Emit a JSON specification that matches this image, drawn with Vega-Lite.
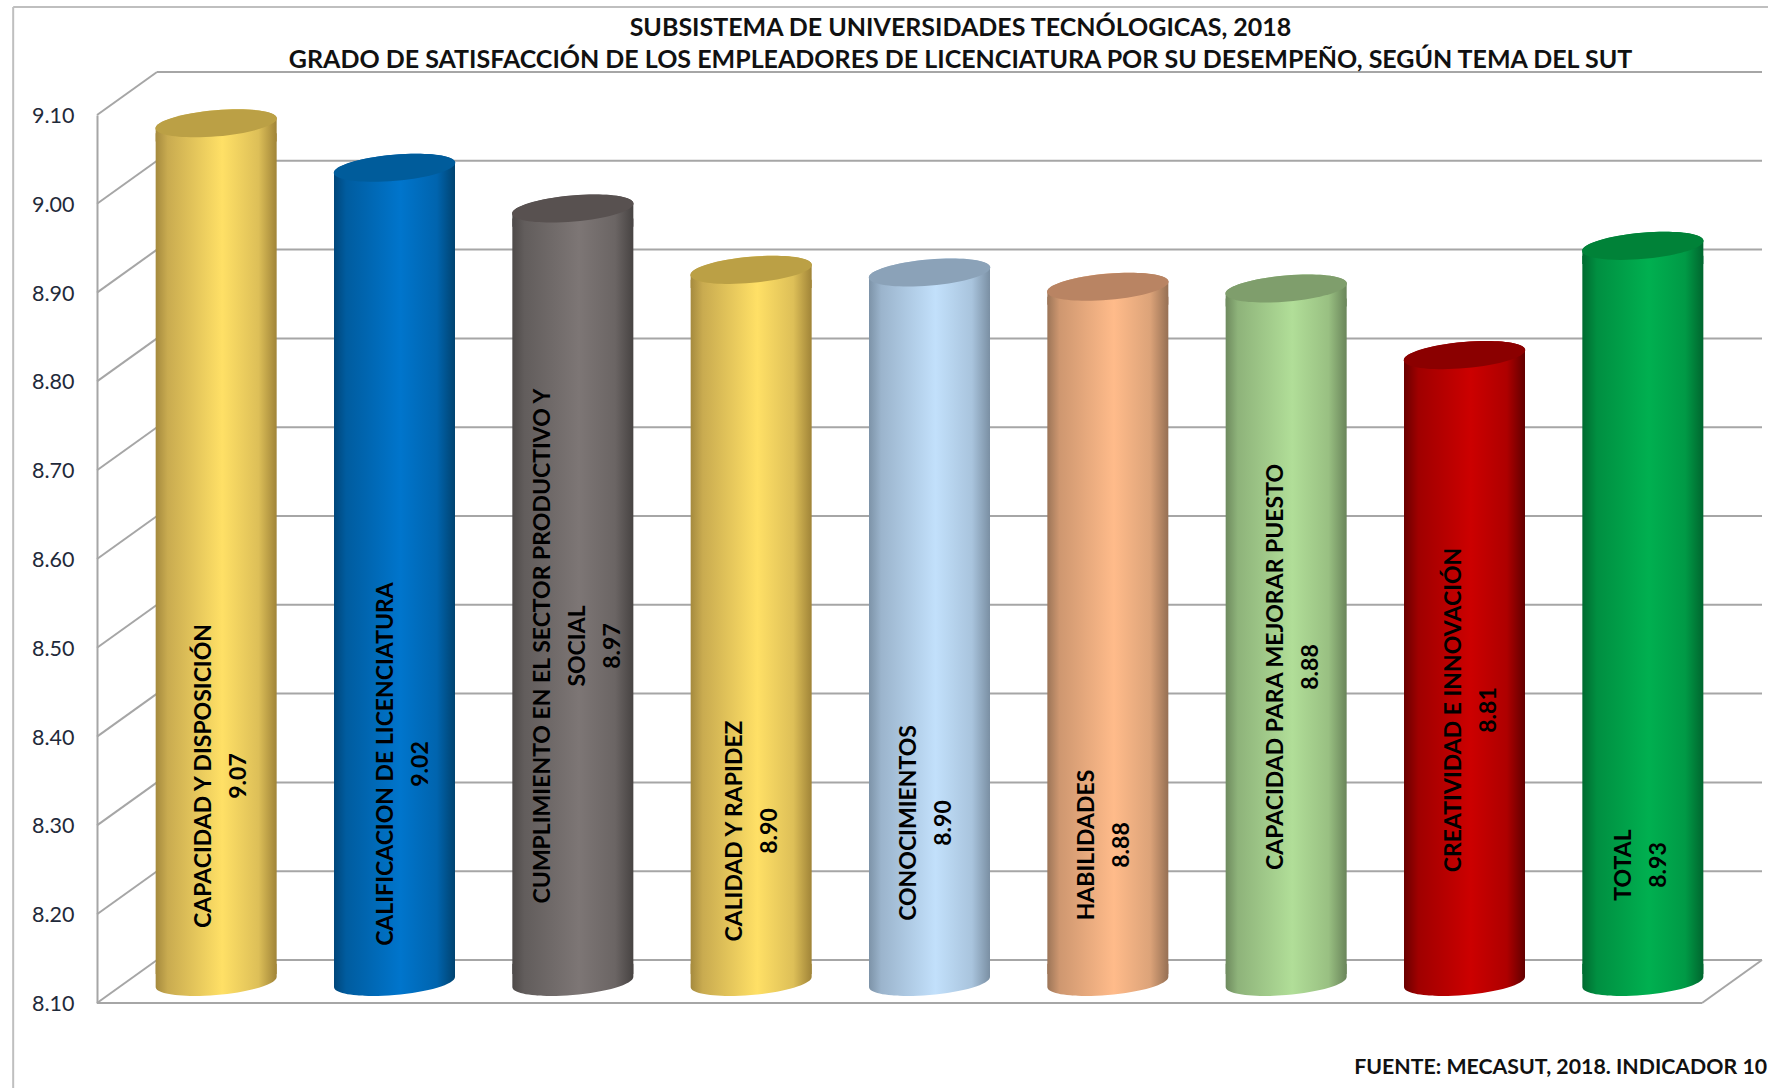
{"$schema":"https://vega.github.io/schema/vega-lite/v6.json","width":1605,"height":888,"autosize":"none","padding":{"left":97,"top":115,"right":66,"bottom":85},"background":"white",
"title":{"text":["SUBSISTEMA DE UNIVERSIDADES TECNÓLOGICAS, 2018","GRADO DE SATISFACCIÓN DE LOS EMPLEADORES DE LICENCIATURA POR SU DESEMPEÑO, SEGÚN TEMA DEL SUT"],"font":"Lato","fontWeight":"bold","fontSize":25,"lineHeight":32,"color":"#111111","anchor":"middle","frame":"group","dx":61,"offset":-66.5},
"config":{"view":{"stroke":null},"scale":{"continuousPadding":0},"rule":{"stroke":"#A6A6A6","strokeWidth":2},"text":{"font":"Lato","fontWeight":"bold","fontSize":23,"angle":270,"lineBreak":"|","lineHeight":35,"color":"#000000"}},
"datasets":{"temas":[
{"orden":0.5,"tema":"CAPACIDAD Y DISPOSICIÓN","valor":9.067,"rotulo":"CAPACIDAD Y DISPOSICIÓN|9.07"},
{"orden":1.5,"tema":"CALIFICACION DE LICENCIATURA","valor":9.017,"rotulo":"CALIFICACION DE LICENCIATURA|9.02"},
{"orden":2.5,"tema":"CUMPLIMIENTO EN EL SECTOR PRODUCTIVO Y SOCIAL","valor":8.971,"rotulo":"CUMPLIMIENTO EN EL SECTOR PRODUCTIVO Y|SOCIAL|8.97"},
{"orden":3.5,"tema":"CALIDAD Y RAPIDEZ","valor":8.902,"rotulo":"CALIDAD Y RAPIDEZ|8.90"},
{"orden":4.5,"tema":"CONOCIMIENTOS","valor":8.899,"rotulo":"CONOCIMIENTOS|8.90"},
{"orden":5.5,"tema":"HABILIDADES","valor":8.883,"rotulo":"HABILIDADES|8.88"},
{"orden":6.5,"tema":"CAPACIDAD PARA MEJORAR PUESTO","valor":8.881,"rotulo":"CAPACIDAD PARA MEJORAR PUESTO|8.88"},
{"orden":7.5,"tema":"CREATIVIDAD E INNOVACIÓN","valor":8.806,"rotulo":"CREATIVIDAD E INNOVACIÓN|8.81"},
{"orden":8.5,"tema":"TOTAL","valor":8.929,"rotulo":"TOTAL|8.93"}],
"escala":[{"v":8.1},{"v":8.2},{"v":8.3},{"v":8.4},{"v":8.5},{"v":8.6},{"v":8.7},{"v":8.8},{"v":8.9},{"v":9.0},{"v":9.1}]},
"layer":[
{"data":{"name":"escala"},"mark":{"type":"rule","xOffset":60,"x2Offset":60,"yOffset":-43,"y2Offset":-43},"encoding":{"x":{"datum":0,"type":"quantitative","scale":{"domain":[0,9]},"axis":null},"x2":{"datum":9},"y":{"field":"v","type":"quantitative","scale":{"domain":[8.1,9.1]},"axis":{"values":[8.1,8.2,8.3,8.4,8.5,8.6,8.7,8.8,8.9,9.0,9.1],"format":".2f","title":null,"grid":false,"ticks":false,"labelFont":"Lato","labelFontSize":21.5,"labelFontWeight":"normal","labelColor":"#1F2A3A","labelPadding":23,"labelOffset":1.5,"domainColor":"#A6A6A6","domainWidth":2}}}},
{"data":{"name":"escala"},"mark":{"type":"rule","x2Offset":60,"y2Offset":-43},"encoding":{"x":{"datum":0,"type":"quantitative","scale":{"domain":[0,9]}},"x2":{"datum":0},"y":{"field":"v","type":"quantitative","scale":{"domain":[8.1,9.1]}},"y2":{"field":"v"}}},
{"data":{"values":[{}]},"mark":{"type":"rule"},"encoding":{"x":{"datum":0,"type":"quantitative","scale":{"domain":[0,9]}},"x2":{"datum":9},"y":{"datum":8.1,"type":"quantitative","scale":{"domain":[8.1,9.1]}}}},
{"data":{"values":[{}]},"mark":{"type":"rule","x2Offset":60,"y2Offset":-43},"encoding":{"x":{"datum":9,"type":"quantitative","scale":{"domain":[0,9]}},"x2":{"datum":9},"y":{"datum":8.1,"type":"quantitative","scale":{"domain":[8.1,9.1]}},"y2":{"datum":8.1}}},
{"data":{"values":[{}]},"mark":{"type":"rule","stroke":"#BFBFBF"},"encoding":{"x":{"datum":-0.47,"type":"quantitative","scale":{"domain":[0,9]}},"x2":{"datum":9.37},"y":{"datum":9.2216,"type":"quantitative","scale":{"domain":[8.1,9.1]}}}},
{"data":{"values":[{}]},"mark":{"type":"rule","stroke":"#BFBFBF"},"encoding":{"x":{"datum":-0.47,"type":"quantitative","scale":{"domain":[0,9]}},"y":{"datum":9.2216,"type":"quantitative","scale":{"domain":[8.1,9.1]}},"y2":{"datum":8.0}}},
{"data":{"name":"temas"},"mark":{"type":"point","filled":true,"opacity":1,"size":14641,"shape":"M-1,-0.3 L-1,0.083 A1.003,0.215,-5,0,0,1,-0.083 L1,-0.3 Z","xOffset":30,"yOffset":-21},"encoding":{"x":{"field":"orden","type":"quantitative","scale":{"domain":[0,9]}},"y":{"datum":8.1,"type":"quantitative","scale":{"domain":[8.1,9.1]}},"fill":{"field":"tema","type":"nominal","legend":null,"sort":null,"scale":{"domain":["CAPACIDAD Y DISPOSICIÓN","CALIFICACION DE LICENCIATURA","CUMPLIMIENTO EN EL SECTOR PRODUCTIVO Y SOCIAL","CALIDAD Y RAPIDEZ","CONOCIMIENTOS","HABILIDADES","CAPACIDAD PARA MEJORAR PUESTO","CREATIVIDAD E INNOVACIÓN","TOTAL"],"range":[
{"expr":"{gradient:'linear',x1:0,y1:0,x2:1,y2:0,stops:[{offset:0,color:'#A58A3E'},{offset:0.1,color:'#C9AB50'},{offset:0.55,color:'#FFE066'},{offset:0.85,color:'#DDBF58'},{offset:1,color:'#A08438'}]}"},
{"expr":"{gradient:'linear',x1:0,y1:0,x2:1,y2:0,stops:[{offset:0,color:'#00467A'},{offset:0.1,color:'#005C9F'},{offset:0.55,color:'#0075CC'},{offset:0.85,color:'#0064AE'},{offset:1,color:'#004370'}]}"},
{"expr":"{gradient:'linear',x1:0,y1:0,x2:1,y2:0,stops:[{offset:0,color:'#4E4A49'},{offset:0.1,color:'#625D5C'},{offset:0.55,color:'#7D7675'},{offset:0.85,color:'#6B6564'},{offset:1,color:'#474342'}]}"},
{"expr":"{gradient:'linear',x1:0,y1:0,x2:1,y2:0,stops:[{offset:0,color:'#A58A3E'},{offset:0.1,color:'#C9AB50'},{offset:0.55,color:'#FFE066'},{offset:0.85,color:'#DDBF58'},{offset:1,color:'#A08438'}]}"},
{"expr":"{gradient:'linear',x1:0,y1:0,x2:1,y2:0,stops:[{offset:0,color:'#7D93A8'},{offset:0.1,color:'#9BB4CC'},{offset:0.55,color:'#C2E0FB'},{offset:0.85,color:'#A9C4DD'},{offset:1,color:'#7A8FA3'}]}"},
{"expr":"{gradient:'linear',x1:0,y1:0,x2:1,y2:0,stops:[{offset:0,color:'#9C7558'},{offset:0.1,color:'#CE9770'},{offset:0.55,color:'#FFBB8A'},{offset:0.85,color:'#DCA379'},{offset:1,color:'#967054'}]}"},
{"expr":"{gradient:'linear',x1:0,y1:0,x2:1,y2:0,stops:[{offset:0,color:'#6E8A5E'},{offset:0.1,color:'#8EB37A'},{offset:0.55,color:'#B1DE98'},{offset:0.85,color:'#99C082'},{offset:1,color:'#6A855A'}]}"},
{"expr":"{gradient:'linear',x1:0,y1:0,x2:1,y2:0,stops:[{offset:0,color:'#6A0000'},{offset:0.12,color:'#A00000'},{offset:0.55,color:'#CC0000'},{offset:0.85,color:'#AE0000'},{offset:1,color:'#620000'}]}"},
{"expr":"{gradient:'linear',x1:0,y1:0,x2:1,y2:0,stops:[{offset:0,color:'#006B30'},{offset:0.12,color:'#008F41'},{offset:0.55,color:'#00B050'},{offset:0.85,color:'#009A46'},{offset:1,color:'#00662E'}]}"}
]}}}},
{"data":{"name":"temas"},"mark":{"type":"bar","size":121,"xOffset":30,"yOffset":-11,"y2Offset":-29},"encoding":{"x":{"field":"orden","type":"quantitative","scale":{"domain":[0,9]}},"y":{"field":"valor","type":"quantitative","scale":{"domain":[8.1,9.1]}},"y2":{"datum":8.1},"fill":{"field":"tema","type":"nominal","legend":null}}},
{"data":{"name":"temas"},"mark":{"type":"point","filled":true,"opacity":1,"size":14641,"shape":"M-1,0.3 L-1,0.083 A1.003,0.215,-5,0,1,1,-0.083 L1,0.3 Z","xOffset":30,"yOffset":-21},"encoding":{"x":{"field":"orden","type":"quantitative","scale":{"domain":[0,9]}},"y":{"field":"valor","type":"quantitative","scale":{"domain":[8.1,9.1]}},"fill":{"field":"tema","type":"nominal","legend":null}}},
{"data":{"name":"temas"},"mark":{"type":"point","filled":true,"opacity":1,"size":14884,"shape":"M-1,0 A1,0.2142 0 1,1 1,0 A1,0.2142 0 1,1 -1,0 Z","angle":-5,"xOffset":30,"yOffset":-21},"encoding":{"x":{"field":"orden","type":"quantitative","scale":{"domain":[0,9]}},"y":{"field":"valor","type":"quantitative","scale":{"domain":[8.1,9.1]}},"color":{"field":"orden","type":"ordinal","legend":null,"scale":{"domain":[0.5,1.5,2.5,3.5,4.5,5.5,6.5,7.5,8.5],"range":["#BBA045","#005C9B","#585150","#BBA045","#8BA2B8","#B98463","#7F9E6C","#8B0000","#008238"]}}}},
{"data":{"name":"temas"},"transform":[{"filter":"datum.orden==0.5"}],"mark":{"type":"text","xOffset":17.5,"yOffset":-227},"encoding":{"x":{"field":"orden","type":"quantitative","scale":{"domain":[0,9]}},"y":{"datum":8.1,"type":"quantitative","scale":{"domain":[8.1,9.1]}},"text":{"field":"rotulo"}}},
{"data":{"name":"temas"},"transform":[{"filter":"datum.orden==1.5"}],"mark":{"type":"text","xOffset":21.5,"yOffset":-239},"encoding":{"x":{"field":"orden","type":"quantitative","scale":{"domain":[0,9]}},"y":{"datum":8.1,"type":"quantitative","scale":{"domain":[8.1,9.1]}},"text":{"field":"rotulo"}}},
{"data":{"name":"temas"},"transform":[{"filter":"datum.orden==2.5"}],"mark":{"type":"text","xOffset":0,"yOffset":-357},"encoding":{"x":{"field":"orden","type":"quantitative","scale":{"domain":[0,9]}},"y":{"datum":8.1,"type":"quantitative","scale":{"domain":[8.1,9.1]}},"text":{"field":"rotulo"}}},
{"data":{"name":"temas"},"transform":[{"filter":"datum.orden==3.5"}],"mark":{"type":"text","xOffset":13.5,"yOffset":-172},"encoding":{"x":{"field":"orden","type":"quantitative","scale":{"domain":[0,9]}},"y":{"datum":8.1,"type":"quantitative","scale":{"domain":[8.1,9.1]}},"text":{"field":"rotulo"}}},
{"data":{"name":"temas"},"transform":[{"filter":"datum.orden==4.5"}],"mark":{"type":"text","xOffset":9.5,"yOffset":-180},"encoding":{"x":{"field":"orden","type":"quantitative","scale":{"domain":[0,9]}},"y":{"datum":8.1,"type":"quantitative","scale":{"domain":[8.1,9.1]}},"text":{"field":"rotulo"}}},
{"data":{"name":"temas"},"transform":[{"filter":"datum.orden==5.5"}],"mark":{"type":"text","xOffset":9.5,"yOffset":-158},"encoding":{"x":{"field":"orden","type":"quantitative","scale":{"domain":[0,9]}},"y":{"datum":8.1,"type":"quantitative","scale":{"domain":[8.1,9.1]}},"text":{"field":"rotulo"}}},
{"data":{"name":"temas"},"transform":[{"filter":"datum.orden==6.5"}],"mark":{"type":"text","xOffset":19.5,"yOffset":-336},"encoding":{"x":{"field":"orden","type":"quantitative","scale":{"domain":[0,9]}},"y":{"datum":8.1,"type":"quantitative","scale":{"domain":[8.1,9.1]}},"text":{"field":"rotulo"}}},
{"data":{"name":"temas"},"transform":[{"filter":"datum.orden==7.5"}],"mark":{"type":"text","xOffset":19.5,"yOffset":-293},"encoding":{"x":{"field":"orden","type":"quantitative","scale":{"domain":[0,9]}},"y":{"datum":8.1,"type":"quantitative","scale":{"domain":[8.1,9.1]}},"text":{"field":"rotulo"}}},
{"data":{"name":"temas"},"transform":[{"filter":"datum.orden==8.5"}],"mark":{"type":"text","xOffset":11.5,"yOffset":-138},"encoding":{"x":{"field":"orden","type":"quantitative","scale":{"domain":[0,9]}},"y":{"datum":8.1,"type":"quantitative","scale":{"domain":[8.1,9.1]}},"text":{"field":"rotulo"}}},
{"data":{"values":[{"fuente":"FUENTE: MECASUT, 2018. INDICADOR 10"}]},"mark":{"type":"text","angle":0,"align":"right","fontSize":21.3,"color":"#111111"},"encoding":{"x":{"datum":9.365,"type":"quantitative","scale":{"domain":[0,9]}},"y":{"datum":8.0265,"type":"quantitative","scale":{"domain":[8.1,9.1]}},"text":{"field":"fuente"}}}
],"resolve":{"scale":{"color":"independent"}}}
